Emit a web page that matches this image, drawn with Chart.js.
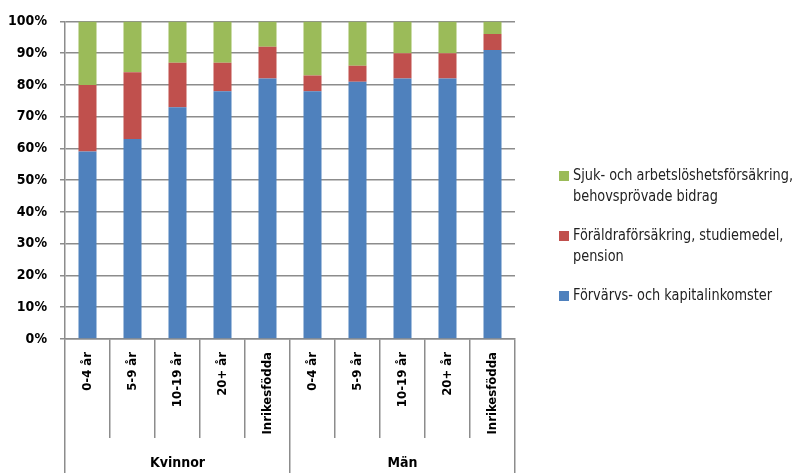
<!DOCTYPE html>
<html>
<head>
<meta charset="utf-8">
<script src="https://cdn.jsdelivr.net/npm/chart.js@4"></script>
<style>
  body { margin: 0; background: #fff; }
  #wrap { position: relative; width: 795px; height: 473px; overflow: hidden; }
  #legend { position: absolute; left: 556px; top: 165px; transform-origin: 0 0;
    font-family: "DejaVu Sans Condensed", "DejaVu Sans", sans-serif;
    font-size: 15px; color: #222; line-height: 21px; white-space: nowrap; }
  .item { position: relative; margin-bottom: 18px; }
  .txt { display: inline-block; margin-left: 17px; transform-origin: 0 0; }
  .box { position: absolute; left: 3px; top: 6px; width: 10px; height: 10px; }
</style>
</head>
<body>
<div id="wrap">
  <canvas id="myChart" width="795" height="473"></canvas>
  <div id="legend"></div>
</div>
<script>
var categories = ['0-4 år', '5-9 år', '10-19 år', '20+ år', 'Inrikesfödda',
                  '0-4 år', '5-9 år', '10-19 år', '20+ år', 'Inrikesfödda'];
var groups = ['Kvinnor', 'Män'];
var yTicks = [0, 10, 20, 30, 40, 50, 60, 70, 80, 90, 100];

var forvarvs = [59, 63, 73, 78, 82, 78, 81, 82, 82, 91];
var foraldra = [21, 21, 14, 9, 10, 5, 5, 8, 8, 5];
var sjuk = [20, 16, 13, 13, 8, 17, 14, 10, 10, 4];

var fontFam = '"DejaVu Sans Condensed", "DejaVu Sans", sans-serif';
var gridCol = '#8c8c8c';

var datasets = [
    { label: 'Förvärvs- och kapitalinkomster', data: forvarvs, backgroundColor: '#4f81bd' },
    { label: 'Föräldraförsäkring, studiemedel,\npension', data: foraldra, backgroundColor: '#c0504d' },
    { label: 'Sjuk- och arbetslöshetsförsäkring,\nbehovsprövade bidrag', data: sjuk, backgroundColor: '#9bbb59' }
];
datasets.forEach(function (d) {
    d.barPercentage = 0.4;
    d.categoryPercentage = 1;
    d.xAxisID = 'x';
});

var ctx = document.getElementById('myChart').getContext('2d');
var myChart = new Chart(ctx, {
    type: 'bar',
    data: { labels: categories, datasets: datasets },
    options: {
        responsive: false,
        animation: false,
        layout: { padding: { top: 20, right: 280, left: 0, bottom: 0 } },
        plugins: { legend: { display: false }, tooltip: { enabled: false } },
        scales: {
            x: {
                stacked: true,
                grid: { offset: true, drawOnChartArea: false, tickLength: 99, color: gridCol, lineWidth: 1.5 },
                border: { color: gridCol, width: 1.5 },
                ticks: { minRotation: 90, maxRotation: 90, autoSkip: false, padding: -86, color: '#000',
                         font: { family: fontFam, size: 13, weight: 'bold' } },
                afterFit: function (s) { s.height = 99; }
            },
            x2: {
                type: 'category',
                labels: groups,
                position: 'bottom',
                grid: { offset: true, drawOnChartArea: false, tickLength: 36, color: gridCol, lineWidth: 1.5 },
                border: { display: false },
                ticks: { padding: -19, color: '#000', font: { family: fontFam, size: 14, weight: 'bold' } },
                afterFit: function (s) { s.height = 35; }
            },
            y: {
                stacked: true,
                min: 0, max: 100,
                afterBuildTicks: function (s) { s.ticks = yTicks.map(function (v) { return { value: v }; }); },
                grid: { color: gridCol, lineWidth: 1.5, tickLength: 5 },
                border: { color: gridCol, width: 1.5 },
                ticks: { padding: 13, color: '#000', font: { family: fontFam, size: 14, weight: 'bold' },
                         callback: function (v) { return v + '%'; } },
                afterFit: function (s) { s.width = 65; }
            }
        }
    }
});

// legend, top item first (reverse of stacking order)
var leg = document.getElementById('legend');
datasets.slice().reverse().forEach(function (d) {
    var el = document.createElement('div');
    el.className = 'item';
    el.innerHTML = '<span class="box" style="background:' + d.backgroundColor + '"></span>' +
        '<span class="txt">' + d.label.replace('\n', '<br>') + '</span>';
    leg.appendChild(el);
});
// squeeze text horizontally to imitate the narrow font of the original
var txts = leg.querySelectorAll('.txt');
var maxW = 0;
txts.forEach(function (t) { maxW = Math.max(maxW, t.getBoundingClientRect().width); });
var k = 220 / maxW;
txts.forEach(function (t) { t.style.transform = 'scaleX(' + k + ')'; });
</script>
</body>
</html>
